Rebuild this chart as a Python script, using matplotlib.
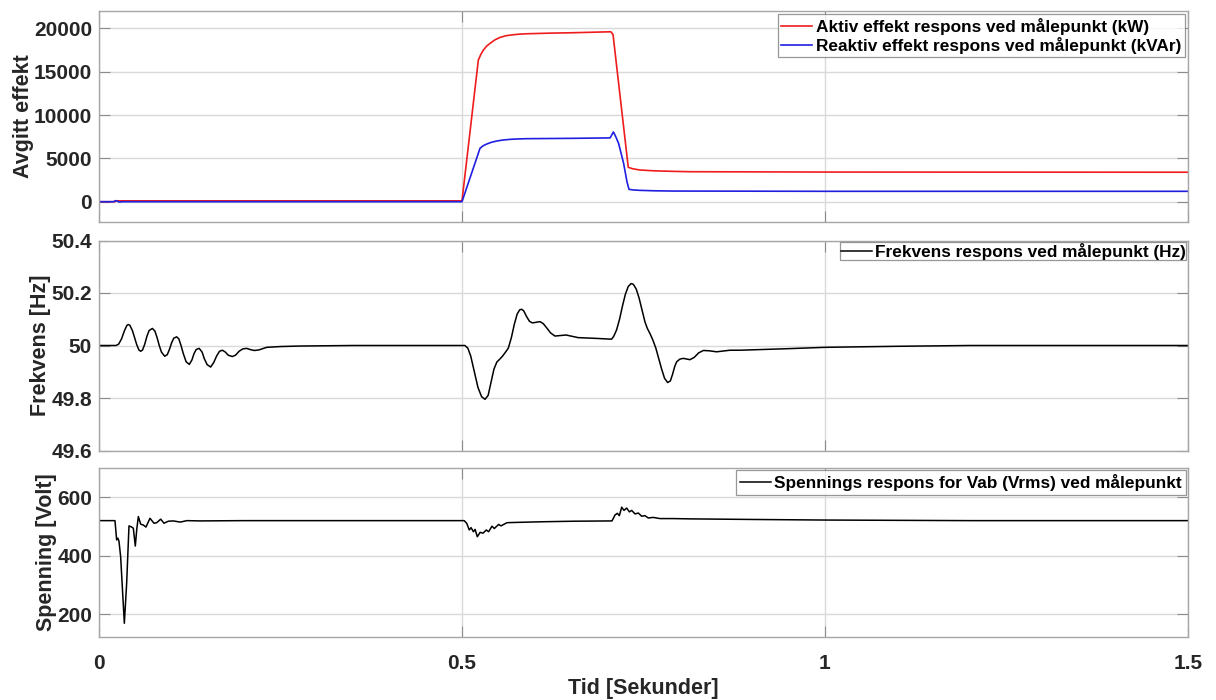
import matplotlib
matplotlib.use("Agg")
import matplotlib.pyplot as plt

plt.rcParams['font.family'] = ['Liberation Sans', 'DejaVu Sans']
plt.rcParams['font.weight'] = 'bold'

# --- Active / reactive power at the measuring point ---
p_time = [0.0, 0.0215, 0.022, 0.5, 0.5225, 0.526, 0.5294, 0.534, 0.5386, 0.545,
          0.5523, 0.561, 0.5707, 0.58, 0.5891, 0.62, 0.6533, 0.705, 0.708,
          0.729, 0.735, 0.745, 0.765, 0.791, 0.814, 1.0, 1.5]
p_active = [0, 0, 100, 100, 16340, 17000, 17490, 17950, 18260, 18650,
            18950, 19150, 19260, 19330, 19370, 19440, 19490, 19600, 19300,
            3970, 3800, 3660, 3560, 3500, 3460, 3420, 3400]

q_time = [0.0, 0.02, 0.024, 0.028, 0.032, 0.5, 0.5248, 0.529, 0.534, 0.540,
          0.5478, 0.556, 0.5661, 0.577, 0.589, 0.6533, 0.704, 0.7085, 0.711,
          0.7157, 0.7226, 0.7272, 0.730, 0.735, 0.745, 0.765, 0.791, 1.0, 1.5]
q_reactive = [0, 0, 120, -40, 0, 0, 6160, 6450, 6650, 6840,
              7000, 7110, 7190, 7240, 7270, 7310, 7360, 8040, 7650,
              6730, 4430, 2310, 1430, 1360, 1310, 1260, 1230, 1200, 1200]

# --- Frequency at the measuring point ---
f_time = [0.0, 0.0234, 0.027, 0.031, 0.035, 0.0385, 0.0404, 0.0425, 0.046, 0.049,
          0.052, 0.055, 0.0574, 0.060, 0.063, 0.066, 0.069, 0.0735, 0.077, 0.080,
          0.083, 0.086, 0.0905, 0.094, 0.097, 0.100, 0.103, 0.107, 0.110, 0.113,
          0.116, 0.120, 0.1244, 0.128, 0.131, 0.134, 0.138, 0.142, 0.145, 0.149,
          0.1538, 0.158, 0.162, 0.166, 0.170, 0.174, 0.178, 0.1836, 0.188, 0.193,
          0.198, 0.2034, 0.209, 0.214, 0.220, 0.231, 0.250, 0.277, 0.350, 0.500,
          0.504, 0.508, 0.512, 0.517, 0.522, 0.527, 0.5317, 0.536, 0.540, 0.544,
          0.548, 0.552, 0.556, 0.560, 0.5638, 0.568, 0.572, 0.576, 0.5795, 0.5822,
          0.585, 0.589, 0.593, 0.597, 0.601, 0.6074, 0.612, 0.617, 0.622, 0.628,
          0.635, 0.6433, 0.650, 0.660, 0.6855, 0.706, 0.709, 0.713, 0.717, 0.721,
          0.725, 0.729, 0.733, 0.736, 0.740, 0.744, 0.748, 0.752, 0.7553, 0.759,
          0.763, 0.767, 0.771, 0.775, 0.779, 0.7833, 0.787, 0.790, 0.793, 0.7957,
          0.800, 0.8048, 0.810, 0.814, 0.820, 0.826, 0.8324, 0.840, 0.8508, 0.860,
          0.8691, 0.883, 0.950, 1.000, 1.100, 1.200, 1.500]
f_value = [50.0, 50.0, 50.005, 50.025, 50.056, 50.077, 50.080, 50.077, 50.057, 50.030,
           50.003, 49.983, 49.978, 49.983, 50.005, 50.035, 50.057, 50.065, 50.055, 50.030,
           50.0, 49.975, 49.959, 49.965, 49.985, 50.010, 50.028, 50.033, 50.025, 50.0,
           49.970, 49.938, 49.928, 49.945, 49.970, 49.985, 49.989, 49.975, 49.950, 49.927,
           49.918, 49.935, 49.960, 49.978, 49.982, 49.975, 49.963, 49.958, 49.963, 49.978,
           49.987, 49.989, 49.984, 49.981, 49.983, 49.993, 49.996, 49.998, 50.0, 50.0,
           50.0, 49.99, 49.96, 49.90, 49.84, 49.805, 49.795, 49.81, 49.86, 49.91,
           49.937, 49.948, 49.96, 49.975, 49.99, 50.03, 50.08, 50.12, 50.136, 50.138,
           50.132, 50.11, 50.092, 50.086, 50.088, 50.091, 50.083, 50.066, 50.048, 50.036,
           50.038, 50.040, 50.036, 50.030, 50.027, 50.024, 50.035, 50.06, 50.10, 50.15,
           50.195, 50.225, 50.236, 50.233, 50.215, 50.18, 50.135, 50.09, 50.065, 50.045,
           50.02, 49.99, 49.95, 49.91, 49.875, 49.859, 49.865, 49.89, 49.92, 49.938,
           49.948, 49.951, 49.948, 49.946, 49.955, 49.972, 49.981, 49.980, 49.976, 49.979,
           49.982, 49.982, 49.988, 49.993, 49.997, 50.0, 50.0]

# --- Line voltage Vab (rms) at the measuring point ---
v_time = [0.0, 0.022, 0.0243, 0.026, 0.0275, 0.0298, 0.0349, 0.0381, 0.0413, 0.045,
          0.0473, 0.050, 0.052, 0.0542, 0.0574, 0.061, 0.0647, 0.0702, 0.0758, 0.0795,
          0.085, 0.0895, 0.0955, 0.1024, 0.112, 0.121, 0.139, 0.2, 0.5, 0.503,
          0.5065, 0.510, 0.5125, 0.5157, 0.518, 0.5211, 0.525, 0.5289, 0.5335, 0.5367,
          0.5413, 0.5445, 0.5505, 0.5537, 0.562, 0.5757, 0.608, 0.654, 0.7066, 0.7107,
          0.714, 0.7167, 0.720, 0.7231, 0.7268, 0.7305, 0.7337, 0.7383, 0.7429, 0.7475,
          0.752, 0.7566, 0.7635, 0.7727, 0.791, 0.814, 0.9, 1.0, 1.2, 1.5]
v_value = [520, 520, 454, 460, 450, 397, 169, 306, 502, 498,
           494, 433, 490, 534, 508, 505, 498, 528, 511, 513,
           525, 511, 518, 519, 515, 520, 519, 520, 520, 520,
           511, 488, 496, 482, 490, 465, 480, 477, 488, 482,
           501, 493, 507, 502, 513, 514, 516, 518, 519, 539,
           545, 537, 566, 555, 563, 550, 555, 543, 546, 535,
           537, 529, 531, 527, 527, 526, 524, 522, 520, 520]

x_ticks = [0, 0.5, 1, 1.5]
x_tick_labels = ['0', '0.5', '1', '1.5']

W, H = 1216, 700
fig = plt.figure(figsize=(W / 100, H / 100), dpi=100)

left, right = 99 / W, 1188 / W
def box(top_px, bot_px):
    return [left, 1 - bot_px / H, right - left, (bot_px - top_px) / H]

ax1 = fig.add_axes(box(10.7, 222))
ax2 = fig.add_axes(box(240.5, 450.5))
ax3 = fig.add_axes(box(468, 637))

frame_c = '#a6a6a6'
grid_c = '#d9d9d9'
text_c = '#262626'
for ax in (ax1, ax2, ax3):
    ax.set_xlim(0, 1.5)
    ax.set_xticks(x_ticks)
    ax.grid(True, color=grid_c, linewidth=1.0)
    ax.set_axisbelow(True)
    for s in ax.spines.values():
        s.set_color(frame_c)
        s.set_linewidth(1.0)
    ax.tick_params(direction='in', length=8, color='#8c8c8c', labelsize=15,
                   labelcolor=text_c, pad=5, top=True, right=True)

ax1.plot(p_time, p_active, color='#ee1c1c', lw=1.2, label='Aktiv effekt respons ved målepunkt (kW)')
ax1.plot(q_time, q_reactive, color='#1f1fe0', lw=1.2, label='Reaktiv effekt respons ved målepunkt (kVAr)')
ax1.set_ylim(-2340, 22030)
ax1.set_yticks([0, 5000, 10000, 15000, 20000])
ax1.set_yticklabels(['0', '5000', '10000', '15000', '20000'], fontweight='bold')
ax1.set_xticklabels([])
ax1.set_ylabel('Avgitt effekt', fontsize=15.5, fontweight='bold', color=text_c, labelpad=0)

ax2.plot(f_time, f_value, color='black', lw=1.1, label='Frekvens respons ved målepunkt (Hz)')
ax2.set_ylim(49.6, 50.4)
ax2.set_yticks([49.6, 49.8, 50.0, 50.2, 50.4])
ax2.set_yticklabels(['49.6', '49.8', '50', '50.2', '50.4'], fontweight='bold')
ax2.set_xticklabels([])
ax2.set_ylabel('Frekvens [Hz]', fontsize=15.5, fontweight='bold', color=text_c, labelpad=0)

ax3.plot(v_time, v_value, color='black', lw=1.1, label='Spennings respons for Vab (Vrms) ved målepunkt')
ax3.set_ylim(122, 700)
ax3.set_yticks([200, 400, 600])
ax3.set_yticklabels(['200', '400', '600'], fontweight='bold')
ax3.set_xticklabels(x_tick_labels, fontweight='bold')
ax3.tick_params(axis='x', pad=12)
ax3.set_ylabel('Spenning [Volt]', fontsize=15.5, fontweight='bold', color=text_c, labelpad=0)
ax3.set_xlabel('Tid [Sekunder]', fontsize=15.5, fontweight='bold', color=text_c, labelpad=4)

legend_pads = {ax1: (0.2, 0.2), ax2: (0.02, 0.1), ax3: (0.25, 0.1)}
for ax in (ax1, ax2, ax3):
    bpad, apad = legend_pads[ax]
    leg = ax.legend(loc='upper right', fontsize=12.4, frameon=True, fancybox=False,
                    handlelength=1.8, handletextpad=0.2, borderpad=bpad,
                    labelspacing=0.12, borderaxespad=apad)
    leg.get_frame().set_edgecolor('#7f7f7f')
    leg.get_frame().set_linewidth(0.9)
    for t in leg.get_texts():
        t.set_fontweight('bold')
        t.set_color('black')

fig.savefig('out.png', dpi=100)
